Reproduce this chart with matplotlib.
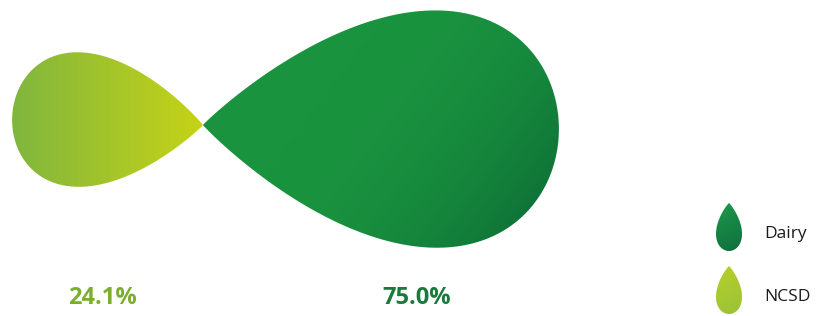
import numpy as np
import matplotlib
matplotlib.use("Agg")
import matplotlib.pyplot as plt
from matplotlib.patches import Polygon
from matplotlib.colors import to_rgb

# Share of the total, drawn as two teardrops meeting at their tips
categories = ["NCSD", "Dairy"]
shares = [24.1, 75.0]
label_texts = ["24.1%", "75.0%"]

# colours (start -> end of each gradient)
drop_colors = {
    "NCSD": ("#80b63e", "#c6d316"),
    "Dairy": ("#1a933f", "#0a6534"),
}
text_colors = {"NCSD": "#7cae2e", "Dairy": "#1a7a3c"}
legend_colors = {"Dairy": ("#1d9a4a", "#0f6e3e"), "NCSD": ("#b6d02a", "#9ac238")}

W, H = 816, 316
TIP = (203, 125)
HEIGHT_PER_SQRT = 27.4   # px of drop height per sqrt(share)
ASPECT = {"NCSD": 1.42, "Dairy": 1.5}   # drop length / drop height


def teardrop(m=0.9, n=400):
    """Unit teardrop: tip at s=0, round end at s=1, half-width 1 at widest."""
    t = np.linspace(0, 2 * np.pi, n)
    s = (1 - np.cos(t)) / 2
    w = np.sin(t) * np.sin(t / 2) ** m
    return s, w / np.abs(w).max()


def drop_xy(tip, length, height, angle_deg, m=0.9):
    s, w = teardrop(m)
    s = s * length
    w = w * height / 2
    a = np.deg2rad(angle_deg)
    x = tip[0] + s * np.cos(a) - w * np.sin(a)
    y = tip[1] + s * np.sin(a) + w * np.cos(a)
    return np.column_stack([x, y])


def gradient_fill(ax, xy, c0, c1, direction, power=1.0, start=0.0):
    """Fill polygon xy with a linear gradient from c0 to c1 along direction."""
    x0, y0 = xy.min(axis=0)
    x1, y1 = xy.max(axis=0)
    nx, ny = 300, 200
    gx, gy = np.meshgrid(np.linspace(x0, x1, nx), np.linspace(y0, y1, ny))
    d = np.array(direction, float)
    d /= np.linalg.norm(d)
    proj = gx * d[0] + gy * d[1]
    f = (proj - proj.min()) / (proj.max() - proj.min())
    f = np.clip((f - start) / (1 - start), 0, 1) ** power
    a, b = np.array(to_rgb(c0)), np.array(to_rgb(c1))
    img = a[None, None, :] * (1 - f[..., None]) + b[None, None, :] * f[..., None]
    patch = Polygon(xy, closed=True, facecolor="none", edgecolor="none")
    ax.add_patch(patch)
    im = ax.imshow(img, extent=(x0, x1, y1, y0), origin="upper",
                   interpolation="bilinear", zorder=2)
    im.set_clip_path(patch)


fig = plt.figure(figsize=(W / 100, H / 100), dpi=100)
ax = fig.add_axes([0, 0, 1, 1])
ax.set_xlim(0, W)
ax.set_ylim(H, 0)
ax.axis("off")

# main drops
angles = {"NCSD": 182.5, "Dairy": 1.0}
grad_dirs = {"NCSD": (1, 0), "Dairy": (0.8, 0.6)}
grad_pow = {"NCSD": 1.0, "Dairy": 2.2}
grad_start = {"NCSD": 0.0, "Dairy": 0.35}
label_x = {"NCSD": 102, "Dairy": 417}

for cat, share, txt in zip(categories, shares, label_texts):
    h = HEIGHT_PER_SQRT * np.sqrt(share)
    xy = drop_xy(TIP, h * ASPECT[cat], h, angles[cat])
    c0, c1 = drop_colors[cat]
    gradient_fill(ax, xy, c0, c1, grad_dirs[cat], grad_pow[cat], grad_start[cat])
    ax.text(label_x[cat], 298, txt, ha="center", va="center",
            fontsize=17, fontweight="bold", family="Open Sans",
            color=text_colors[cat])

# legend
legend_items = [("Dairy", 203), ("NCSD", 266)]
for cat, top in legend_items:
    xy = drop_xy((729, top), 48, 26, 90, m=0.8)
    c0, c1 = legend_colors[cat]
    gradient_fill(ax, xy, c0, c1, (0.5, 1))
    ax.text(764, top + 31, cat, ha="left", va="center", fontsize=12.5,
            family="Open Sans", color="#1a1a1a")

fig.savefig("out.png", dpi=100, facecolor="white")
